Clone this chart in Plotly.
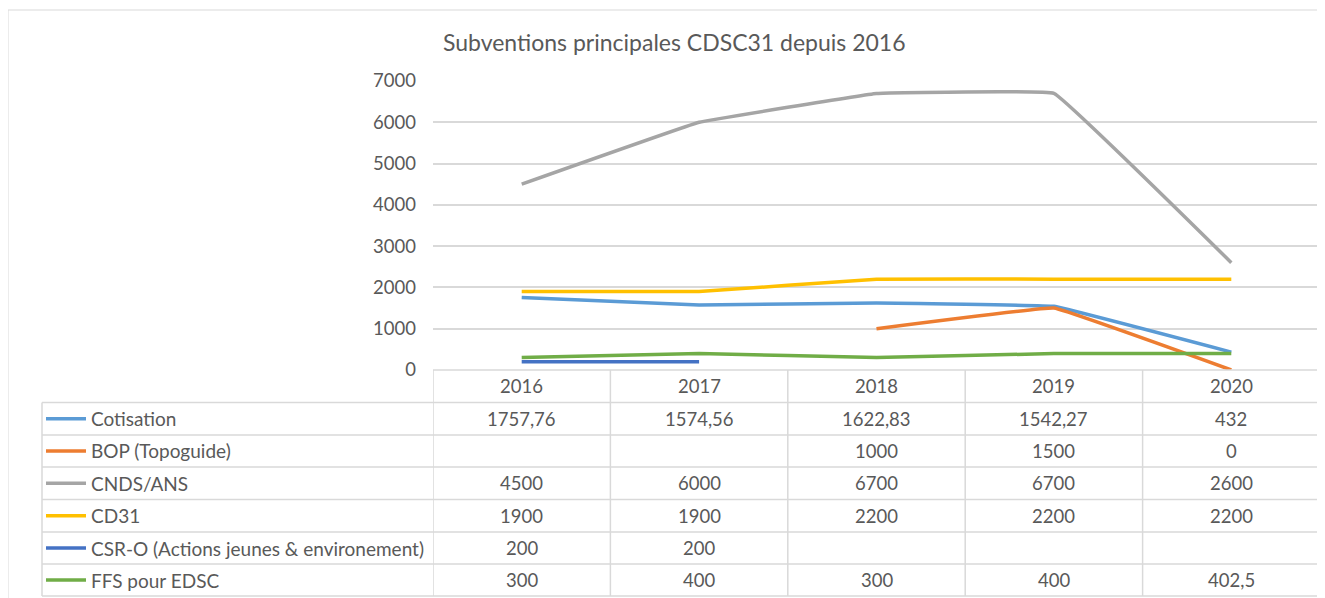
import plotly.graph_objects as go

W, H = 1325, 598

years = ["2016", "2017", "2018", "2019", "2020"]
series_names = ["Cotisation", "BOP (Topoguide)", "CNDS/ANS", "CD31",
                "CSR-O (Actions jeunes & environement)", "FFS pour EDSC"]
cotisation = [1757.76, 1574.56, 1622.83, 1542.27, 432]
bop = [None, None, 1000, 1500, 0]
cnds = [4500, 6000, 6700, 6700, 2600]
cd31 = [1900, 1900, 2200, 2200, 2200]
csro = [200, 200, None, None, None]
ffs = [300, 400, 300, 400, 402.5]
colors = ["#5B9BD5", "#ED7D31", "#A5A5A5", "#FFC000", "#4472C4", "#70AD47"]
y_ticks = [0, 1000, 2000, 3000, 4000, 5000, 6000, 7000]
title = "Subventions principales CDSC31 depuis 2016"

all_series = [cotisation, bop, cnds, cd31, csro, ffs]

FONT = "Lato, 'Open Sans', sans-serif"
TXT = "#595959"
GRID = "#D9D9D9"
OFF = 8  # page body margin


def px(x):
    return (x - OFF) / W


def py(y):
    return 1 - (y - OFF) / H


plot_left, plot_right = 433, 1320
plot_top, plot_bottom = 81, 370

fig = go.Figure()
for name, vals, col in zip(series_names, all_series, colors):
    fig.add_trace(go.Scatter(
        x=years, y=vals, name=name, mode="lines",
        line=dict(color=col, width=3.5, shape="spline", smoothing=0.15),
        connectgaps=False, showlegend=False, hoverinfo="x+y+name"))

shapes = []
annotations = []

# outer border
shapes.append(dict(type="rect", xref="paper", yref="paper",
                   x0=px(8), x1=px(1322), y0=py(10), y1=py(610),
                   line=dict(color="#D9D9D9", width=1)))

# table geometry
row_bounds = [370, 402.5, 435, 467, 499.5, 532, 564, 596]
table_left = 42
shapes.append(dict(type="line", xref="paper", yref="paper",
                   x0=px(plot_left), x1=px(plot_right), y0=py(row_bounds[0]), y1=py(row_bounds[0]),
                   line=dict(color=GRID, width=1.5)))
for yb in row_bounds[1:]:
    shapes.append(dict(type="line", xref="paper", yref="paper",
                       x0=px(table_left), x1=px(plot_right), y0=py(yb), y1=py(yb),
                       line=dict(color=GRID, width=1.5)))
shapes.append(dict(type="line", xref="paper", yref="paper",
                   x0=px(table_left), x1=px(table_left), y0=py(row_bounds[1]), y1=py(row_bounds[-1]),
                   line=dict(color=GRID, width=1.5)))
for i in range(len(years) + 1):
    shapes.append(dict(type="line", xref="x", yref="paper",
                       x0=i - 0.5, x1=i - 0.5, y0=py(row_bounds[0]), y1=py(row_bounds[-1]),
                       line=dict(color=GRID, width=1.5)))

# header years
hy = (row_bounds[0] + row_bounds[1]) / 2
for i, yr in enumerate(years):
    annotations.append(dict(xref="x", yref="paper", x=i, y=py(hy), text=yr,
                            showarrow=False, xanchor="center", yanchor="middle",
                            font=dict(family=FONT, size=18.5, color=TXT)))


def fmt(v):
    return f"{v:g}".replace(".", ",")


for r, (name, vals, col) in enumerate(zip(series_names, all_series, colors)):
    cy = (row_bounds[r + 1] + row_bounds[r + 2]) / 2
    shapes.append(dict(type="line", xref="paper", yref="paper",
                       x0=px(46), x1=px(86), y0=py(cy), y1=py(cy),
                       line=dict(color=col, width=3.5)))
    annotations.append(dict(xref="paper", yref="paper", x=px(89), y=py(cy), text=name,
                            showarrow=False, xanchor="left", yanchor="middle",
                            font=dict(family=FONT, size=19, color=TXT)))
    for i, v in enumerate(vals):
        if v is None:
            continue
        annotations.append(dict(xref="x", yref="paper", x=i, y=py(cy), text=fmt(v),
                                showarrow=False, xanchor="center", yanchor="middle",
                                font=dict(family=FONT, size=18.5, color=TXT)))

# title
annotations.append(dict(xref="paper", yref="paper", x=px(674), y=py(42), text=title,
                        showarrow=False, xanchor="center", yanchor="middle",
                        font=dict(family=FONT, size=23, color=TXT)))

fig.update_layout(
    width=W, height=H, autosize=False,
    margin=dict(l=0, r=0, t=0, b=0, pad=0, autoexpand=False),
    paper_bgcolor="white", plot_bgcolor="white",
    shapes=shapes, annotations=annotations,
    xaxis=dict(domain=[px(plot_left), px(plot_right)], type="category",
               categoryorder="array", categoryarray=years,
               range=[-0.5, len(years) - 0.5], showticklabels=False,
               showgrid=False, zeroline=False, showline=False, ticks="",
               automargin=False),
    yaxis=dict(domain=[py(plot_bottom), py(plot_top)], range=[0, 7000],
               tickvals=y_ticks, showgrid=True, gridcolor=GRID, gridwidth=1.5,
               zeroline=False, showline=False, ticks="",
               ticklabelstandoff=16, automargin=False,
               tickfont=dict(family=FONT, size=18.5, color=TXT)),
    showlegend=False,
)

fig.write_html("out.html")
